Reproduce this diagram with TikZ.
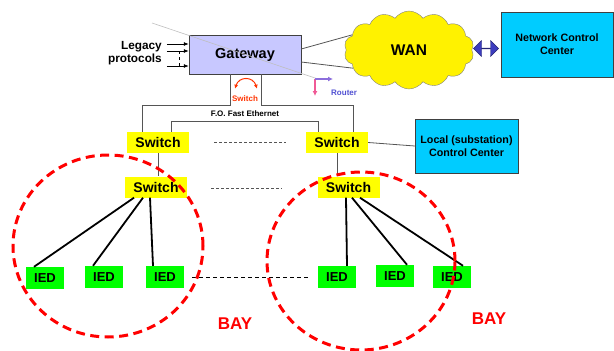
\documentclass[tikz,border=0pt]{standalone}
\usepackage{fontspec}
\setmainfont{Liberation Sans}
\usetikzlibrary{shapes.symbols,shapes.arrows,arrows.meta,positioning}

\definecolor{gwfill}{RGB}{200,200,255}
\definecolor{ctrfill}{RGB}{0,204,255}
\definecolor{swfill}{RGB}{255,255,0}
\definecolor{iedfill}{RGB}{0,255,0}
\definecolor{bayred}{RGB}{255,0,0}
\definecolor{swred}{RGB}{255,51,0}
\definecolor{linkgray}{RGB}{85,85,85}
\definecolor{arrowblue}{RGB}{60,60,190}
\definecolor{rtpink}{RGB}{240,90,150}
\definecolor{rtviolet}{RGB}{140,110,220}
\definecolor{rtlabel}{RGB}{80,80,210}

\tikzset{
  swbox/.style={fill=swfill, minimum width=62pt, minimum height=21pt, inner sep=0pt,
    font=\bfseries\fontsize{14}{14}\selectfont},
  iedbox/.style={fill=iedfill, minimum width=38pt, minimum height=22pt, inner sep=0pt,
    font=\bfseries\fontsize{13}{13}\selectfont},
  ctrbox/.style={draw=black!75, fill=ctrfill, align=center, inner sep=0pt,
    font=\bfseries\fontsize{10.7}{13}\selectfont},
  link/.style={draw=linkgray, line width=0.8pt},
  drop/.style={draw=black, line width=1.8pt},
  gap/.style={draw=linkgray, line width=0.6pt, dash pattern=on 3pt off 2pt},
  bay/.style={draw=bayred, line width=3pt, dash pattern=on 9pt off 5.5pt},
  baylabel/.style={text=bayred, font=\bfseries\fontsize{17}{17}\selectfont},
  tiny/.style={font=\bfseries\fontsize{8}{8}\selectfont, inner sep=0pt},
}

\begin{document}
\begin{tikzpicture}[x=1pt,y=-1pt]
\useasboundingbox (0,0) rectangle (614,351);

% gateway and legacy side
\node[draw=black!75, fill=gwfill, minimum width=112pt, minimum height=39pt, inner sep=0pt,
  font=\bfseries\fontsize{14.5}{14.5}\selectfont] (gw) at (245,54.5) {Gateway};
\node[anchor=east, align=right, inner sep=0pt,
  font=\bfseries\fontsize{11.8}{13}\selectfont] (legacy) at (162,53) {Legacy\\protocols};
\foreach \s in {10.5pt,3.5pt,-11.5pt}
  \draw[-{Latex[length=5pt,width=4pt]}, line width=0.8pt] ([shift={(-22pt,\s)}]gw.west) -- ([yshift=\s]gw.west);
\draw[dashed, line width=0.5pt] ([shift={(-10pt,3.5pt)}]gw.west) -- ([shift={(-10pt,-11.5pt)}]gw.west);

% WAN side
\node[cloud, cloud puffs=14, cloud puff arc=110, draw=black!50, fill=yellow, minimum width=130pt,
  minimum height=78pt, inner sep=0pt, font=\bfseries\fontsize{15.5}{15.5}\selectfont] (wan) at (409,50) {WAN};
\node[ctrbox, minimum width=112pt, minimum height=65pt] (ncc) at (557,44.5) {Network Control\\Center};
\node[double arrow, double arrow head extend=3.5pt, fill=arrowblue, draw=arrowblue!60!black,
  minimum height=25pt, minimum width=16pt, inner sep=0pt] (wanlink) at (486,48.5) {};
\draw[link] ([yshift=5.5pt]gw.east) -- (wan.165);
\draw[link] ([yshift=-7.5pt]gw.east) -- (wan.198);

% diagonal trace and router
\draw[black!25, line width=0.6pt] (152,23) -- (318,79);
\coordinate (rt) at (315,79);
\draw[rtpink, line width=1.2pt, -{Latex[length=5pt,width=5pt]}] (rt) -- ++(0,17);
\draw[rtviolet, line width=1.2pt, -{Latex[length=5pt,width=5pt]}] (rt) -- ++(18,0);
\node[tiny, text=rtlabel, anchor=west] (router) at (331,92.5) {Router};

% switch in the gateway
\draw[swred, line width=1pt, {Latex[length=4pt,width=4pt]}-{Latex[length=4pt,width=4pt]}]
  ([shift={(-10pt,-14.5pt)}]gw.south) .. controls ([shift={(-6pt,-2pt)}]gw.south) and ([shift={(8pt,-2pt)}]gw.south) .. ([shift={(12pt,-14.5pt)}]gw.south);
\node[tiny, text=swred] (gwsw) at (245,99) {Switch};
\node[tiny] (foe) at (245,114) {F.O. Fast Ethernet};

% station bus switches
\node[swbox] (swA) at (158,142.5) {Switch};
\node[swbox] (swB) at (337,142.5) {Switch};
\node[swbox] (swC) at (156,187) {Switch};
\node[swbox] (swD) at (348.5,187) {Switch};
\node[ctrbox, minimum width=103pt, minimum height=54pt] (lcc) at (466.5,146) {Local (substation)\\Control Center};

\draw[link] ([xshift=-15pt]gw.south) -- ++(0,31.5) -| ([xshift=-16pt]swA.north);
\draw[link] ([xshift=16pt]gw.south) -- ++(0,31.5) -| ([xshift=16pt]swB.north);
\draw[link] ([xshift=13pt]swA.north) -- ++(0,-10.5) -| ([xshift=-19pt]swB.north);
\draw[link] (swA.south) -- (swA.south |- swC.north);
\draw[link] (swB.south) -- (swB.south |- swD.north);
\draw[link] (swB.east) -- (lcc.west);
\draw[gap, shorten <=25pt, shorten >=20pt] (swA) -- (swB);
\draw[gap, shorten <=24pt, shorten >=35pt] ([yshift=-1.5pt]swC.east) -- ([yshift=-1.5pt]swD.west);

% bay devices
\node[iedbox] (i1) at (45,278) {IED};
\node[iedbox] (i2) at (104,277) {IED};
\node[iedbox] (i3) at (165,277) {IED};
\node[iedbox] (i4) at (337,277) {IED};
\node[iedbox] (i5) at (395,276) {IED};
\node[iedbox] (i6) at (452,277) {IED};

\draw[drop] ([xshift=-22pt]swC.south) -- ([xshift=-11pt]i1.north);
\draw[drop] ([xshift=-13pt]swC.south) -- ([xshift=-11pt]i2.north);
\draw[drop] ([xshift=-6pt]swC.south) -- ([xshift=-12pt]i3.north);
\draw[drop] ([xshift=-2.5pt]swD.south) -- ([xshift=10pt]i4.north);
\draw[drop] ([xshift=3.5pt]swD.south) -- ([xshift=12pt]i5.north);
\draw[drop] ([xshift=11.5pt]swD.south) -- ([xshift=11pt]i6.north);
\draw[line width=0.8pt, dash pattern=on 4pt off 3pt, shorten <=8pt, shorten >=10pt] (i3.east) -- (i4.west);

% bay boundaries
\draw[bay] (108,246) ellipse [x radius=95pt, y radius=91pt];
\draw[bay] (361,261) ellipse [x radius=94pt, y radius=89pt];
\node[baylabel] (bayL) at (235,324) {BAY};
\node[baylabel] (bayR) at (489,319) {BAY};
\end{tikzpicture}
\end{document}
